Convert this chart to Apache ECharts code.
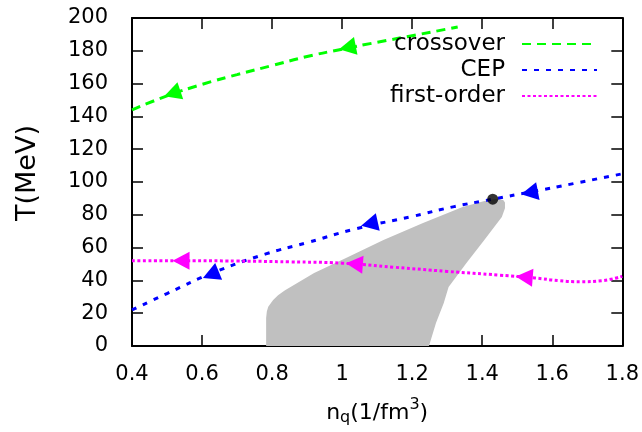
<!DOCTYPE html>
<html>
<head>
<meta charset="utf-8">
<script src="https://cdn.jsdelivr.net/npm/echarts@6/dist/echarts.min.js"></script>
<style>
html, body { margin: 0; padding: 0; background: #fff; }
#echarts_main { width: 642px; height: 432px; }
</style>
</head>
<body>
<div id="echarts_main"></div>
<script>
// values
var xTickMin = 0.4, xTickMax = 1.8, xTickStep = 0.2;
var yTickMin = 0, yTickMax = 200, yTickStep = 20;

var crossoverX = [0.40, 0.50, 0.60, 0.70, 0.80, 0.90, 1.00, 1.10, 1.20, 1.33];
var crossoverT = [144, 152.5, 159.5, 165.5, 171, 176.5, 181, 185.2, 189.2, 194.5];
var crossoverArrows = [[0.515, 154], [1.015, 182]];

var cepX = [0.40, 0.50, 0.63, 0.78, 0.90, 1.04, 1.20, 1.32, 1.43, 1.54, 1.66, 1.80];
var cepT = [22, 32, 44.5, 56, 63, 71.5, 79, 85, 89.5, 94, 99, 105];
var cepArrows = [[0.625, 43.5], [1.078, 74.5], [1.535, 93.5]];

var firstX = [0.40, 0.55, 0.70, 0.85, 1.00, 1.15, 1.30, 1.45, 1.55, 1.62, 1.68, 1.74, 1.80];
var firstT = [52, 52, 51.8, 51.3, 50.5, 48, 45.5, 43.2, 41.5, 39.8, 39.2, 39.8, 42.5];
var firstArrows = [[0.54, 52], [1.035, 50], [1.52, 42]];

var cepPointX = [1.43];
var cepPointT = [89.5];

// gray (unstable) region, boundary walked around
var regionX = [0.783, 0.783, 0.785, 0.789, 0.803, 0.817, 0.837, 0.878, 0.920, 1.014, 1.118, 1.231, 1.344, 1.417, 1.440, 1.460, 1.465, 1.465, 1.456, 1.406, 1.355, 1.304, 1.290, 1.268, 1.248];
var regionT = [0, 17, 21, 24, 28, 31, 34, 39.2, 44.5, 54, 64.6, 75, 84.8, 89, 89.6, 89, 87.5, 84, 78.7, 64.6, 50.6, 36, 26, 14, 0];

function zip(a, b) {
  return a.map(function (v, i) { return [v, b[i]]; });
}

function interp(xs, ys, x) {
  if (x <= xs[0]) return ys[0] + (ys[1] - ys[0]) * (x - xs[0]) / (xs[1] - xs[0]);
  for (var i = 1; i < xs.length; i++) {
    if (x <= xs[i]) return ys[i - 1] + (ys[i] - ys[i - 1]) * (x - xs[i - 1]) / (xs[i] - xs[i - 1]);
  }
  var n = xs.length - 1;
  return ys[n] + (ys[n] - ys[n - 1]) * (x - xs[n]) / (xs[n] - xs[n - 1]);
}

var FONT = 'DejaVu Sans';

function curve(name, color, xs, ys, dash) {
  return {
    name: name,
    type: 'line',
    smooth: true,
    symbol: 'none',
    showSymbol: false,
    data: zip(xs, ys),
    lineStyle: { color: color, width: 3, type: dash },
    itemStyle: { color: color },
    z: 3
  };
}

// filled arrow heads, pointing to lower n_q along the curve
function arrows(color, xs, ys, pts) {
  return {
    type: 'custom',
    data: pts,
    encode: { x: 0, y: 1 },
    z: 4,
    renderItem: function (params, api) {
      var x = api.value(0), y = api.value(1);
      var p = api.coord([x, y]);
      var a = api.coord([x - 0.02, interp(xs, ys, x - 0.02)]);
      var b = api.coord([x + 0.02, interp(xs, ys, x + 0.02)]);
      var dx = a[0] - b[0], dy = a[1] - b[1];
      var len = Math.sqrt(dx * dx + dy * dy);
      dx /= len; dy /= len;
      var L = 17, W = 18;
      var tip = [p[0] + dx * L / 2, p[1] + dy * L / 2];
      var bc = [p[0] - dx * L / 2, p[1] - dy * L / 2];
      return {
        type: 'polygon',
        shape: { points: [tip, [bc[0] - dy * W / 2, bc[1] + dx * W / 2], [bc[0] + dy * W / 2, bc[1] - dx * W / 2]] },
        style: { fill: color }
      };
    }
  };
}

function legendRow(name, top) {
  return {
    data: [name],
    right: 44,
    top: top,
    padding: 0,
    orient: 'vertical',
    align: 'right',
    itemWidth: 75,
    itemHeight: 12,
    selectedMode: false,
    itemStyle: { opacity: 0 },
    textStyle: { fontFamily: FONT, fontSize: 23, color: '#000', padding: [0, 12, 0, 0] }
  };
}

var myChart = echarts.init(document.getElementById('echarts_main'));
var axisLine = { show: true, onZero: false, lineStyle: { color: '#000', width: 2 } };
var axisTick = { show: true, inside: true, length: 11, lineStyle: { color: '#000', width: 1.5 } };

myChart.setOption({
  animation: false,
  backgroundColor: '#fff',
  grid: { left: 132, right: 13, top: 18, bottom: 86 },
  legend: [legendRow('crossover', 32.5), legendRow('CEP', 58.5), legendRow('first-order', 84.5)],
  xAxis: [
    {
      type: 'value', min: xTickMin, max: xTickMax, interval: xTickStep,
      position: 'bottom',
      axisLine: axisLine, axisTick: axisTick, splitLine: { show: false },
      axisLabel: { fontFamily: FONT, fontSize: 21, color: '#000', margin: 18 },
      name: 'n{sub|q}(1/fm{sup|3})',
      nameLocation: 'middle',
      nameGap: 51,
      nameTextStyle: {
        fontFamily: FONT, fontSize: 22, color: '#000',
        rich: {
          sub: { fontFamily: FONT, fontSize: 16, color: '#000', padding: [10, 0, 0, 0] },
          sup: { fontFamily: FONT, fontSize: 16, color: '#000', padding: [0, 0, 16, 0] }
        }
      }
    },
    {
      type: 'value', min: xTickMin, max: xTickMax, interval: xTickStep,
      position: 'top',
      axisLine: axisLine, axisTick: axisTick, splitLine: { show: false },
      axisLabel: { show: false }
    }
  ],
  yAxis: [
    {
      type: 'value', min: yTickMin, max: yTickMax, interval: yTickStep,
      position: 'left',
      axisLine: axisLine, axisTick: axisTick, splitLine: { show: false },
      axisLabel: { fontFamily: FONT, fontSize: 21, color: '#000', margin: 24 },
      name: 'T(MeV)',
      nameLocation: 'middle',
      nameGap: 91,
      nameTextStyle: { fontFamily: FONT, fontSize: 27, color: '#000', padding: [0, 0, 0, 18] }
    },
    {
      type: 'value', min: yTickMin, max: yTickMax, interval: yTickStep,
      position: 'right',
      axisLine: axisLine, axisTick: axisTick, splitLine: { show: false },
      axisLabel: { show: false }
    }
  ],
  series: [
    {
      type: 'custom',
      data: [[regionX[0], regionT[0]]],
      encode: { x: 0, y: 1 },
      z: 1,
      renderItem: function (params, api) {
        var pts = regionX.map(function (x, i) { return api.coord([x, regionT[i]]); });
        return { type: 'polygon', shape: { points: pts }, style: { fill: '#c0c0c0' } };
      }
    },
    curve('crossover', '#00ff00', crossoverX, crossoverT, [9, 6]),
    curve('CEP', '#0000ff', cepX, cepT, [5, 7]),
    curve('first-order', '#ff00ff', firstX, firstT, [3, 2.5]),
    arrows('#00ff00', crossoverX, crossoverT, crossoverArrows),
    arrows('#0000ff', cepX, cepT, cepArrows),
    arrows('#ff00ff', firstX, firstT, firstArrows),
    {
      type: 'scatter',
      data: zip(cepPointX, cepPointT),
      symbol: 'circle',
      symbolSize: 11,
      itemStyle: { color: '#000' },
      z: 5
    }
  ]
});
</script>
</body>
</html>
